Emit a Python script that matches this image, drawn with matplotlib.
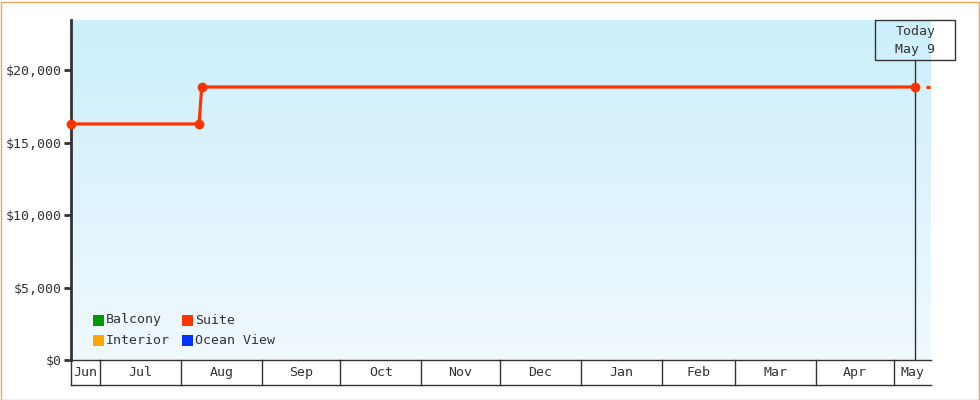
import numpy as np
import matplotlib
matplotlib.use("Agg")
import matplotlib.pyplot as plt
import matplotlib.dates as mdates
import matplotlib.transforms as mtrans
from datetime import date

plt.rcParams["lines.scale_dashes"] = False

# data
price_dates = [date(2022, 6, 20), date(2022, 8, 8), date(2022, 8, 9), date(2023, 5, 9)]
price_vals = [16280, 16280, 18830, 18830]
today = date(2023, 5, 9)
end_date = date(2023, 5, 15)
start_date = date(2022, 6, 20)
month_edges = [date(2022, m, 1) for m in range(7, 13)] + [date(2023, m, 1) for m in range(1, 6)]
month_names = ["Jun", "Jul", "Aug", "Sep", "Oct", "Nov", "Dec", "Jan", "Feb", "Mar", "Apr", "May"]
legend_names = ["Balcony", "Suite", "Interior", "Ocean View"]
legend_colors = ["#009900", "#ff3300", "#ffa500", "#0033ff"]
yticks = [0, 5000, 10000, 15000, 20000]

font = "DejaVu Sans Mono"
fs = 9.5
ink = "#333333"

fig = plt.figure(figsize=(9.8, 4), dpi=100)
fig.patch.set_facecolor("white")
ax = fig.add_axes([71/980, 40/400, 860/980, 340/400])

x0 = mdates.date2num(start_date)
x1 = mdates.date2num(end_date)
ax.set_xlim(x0, x1)
ax.set_ylim(0, 23450)

# gradient background
grad = np.linspace(0, 1, 256).reshape(-1, 1)
top = np.array([0xcc, 0xef, 0xfc]) / 255
bot = np.array([0xf0, 0xf9, 0xfe]) / 255
img = top + (bot - top) * grad[:, :, None] * np.ones((1, 1, 3))
ax.imshow(img.reshape(256, 1, 3), extent=[x0, x1, 0, 23450], aspect="auto", zorder=0)

for s in ["top", "right"]:
    ax.spines[s].set_visible(False)
ax.spines["left"].set_color(ink)
ax.spines["left"].set_linewidth(2)
ax.spines["bottom"].set_color(ink)
ax.spines["bottom"].set_linewidth(1)

ax.set_yticks(yticks)
ax.set_yticklabels(["${:,}".format(v) for v in yticks], fontfamily=font, fontsize=fs, color=ink)
ax.tick_params(axis="y", length=5, width=2, color=ink, pad=2)
ax.set_xticks([])

# month strip below axis
tr = mtrans.blended_transform_factory(ax.transData, ax.transAxes)
h = 25 / 340
for d in month_edges:
    xn = mdates.date2num(d)
    ax.plot([xn, xn], [0, -h], color=ink, lw=1, transform=tr, clip_on=False)
ax.plot([x0, x1], [-h, -h], color=ink, lw=1, transform=tr, clip_on=False)
ax.plot([x0, x0], [0, -h], color=ink, lw=1, transform=tr, clip_on=False)
edges = [x0] + [mdates.date2num(d) for d in month_edges] + [x1]
for i, name in enumerate(month_names):
    xc = (edges[i] + edges[i + 1]) / 2
    ax.text(xc, -h / 2, name, transform=tr, ha="center", va="center",
            fontfamily=font, fontsize=fs, color=ink)

# price line
xs = mdates.date2num(price_dates)
ax.plot(xs, price_vals, color="#ff3300", lw=2.3, marker="o", ms=6, zorder=3, clip_on=False)
# projection past today
ax.plot([mdates.date2num(today), x1], [price_vals[-1], price_vals[-1]], color="#ff3300",
        lw=2.3, linestyle=(2.9, (2.9, 7.9)), dash_capstyle="butt", zorder=3)

# today marker
xt = mdates.date2num(today)
ax.plot([xt, xt], [0, 1 - 40 / 340], color=ink, lw=1, transform=tr, zorder=2)
fig.canvas.draw()
xpix = ax.transData.transform((xt, 0))[0]
fig.add_artist(plt.Rectangle(((xpix - 40) / 980, 340 / 400), 80 / 980, 40 / 400,
                             transform=fig.transFigure, fc="none", ec=ink, lw=1, zorder=4))
fig.text(xpix / 980, 368 / 400, "Today", ha="center", va="center",
         fontfamily=font, fontsize=fs, color=ink)
fig.text(xpix / 980, 350 / 400, "May 9", ha="center", va="center",
         fontfamily=font, fontsize=fs, color=ink)

# legend
lx = [22, 111]
ly = [40, 20]
for i, (name, c) in enumerate(zip(legend_names, legend_colors)):
    col = i % 2
    row = i // 2
    ax.add_patch(plt.Rectangle((lx[col] / 860, ly[row] / 340 - 5.5 / 340), 11 / 860, 11 / 340,
                               transform=ax.transAxes, fc=c, ec="none", zorder=4))
    ax.text((lx[col] + 13) / 860, ly[row] / 340, name, transform=ax.transAxes, ha="left",
            va="center", fontfamily=font, fontsize=fs, color=ink, zorder=4)

# orange outer border
fig.add_artist(plt.Rectangle((0.5 / 980, 0.5 / 400), 978 / 980, 398 / 400, transform=fig.transFigure,
                             fc="none", ec="#e8a860", lw=1))

fig.savefig("out.png", dpi=100)
